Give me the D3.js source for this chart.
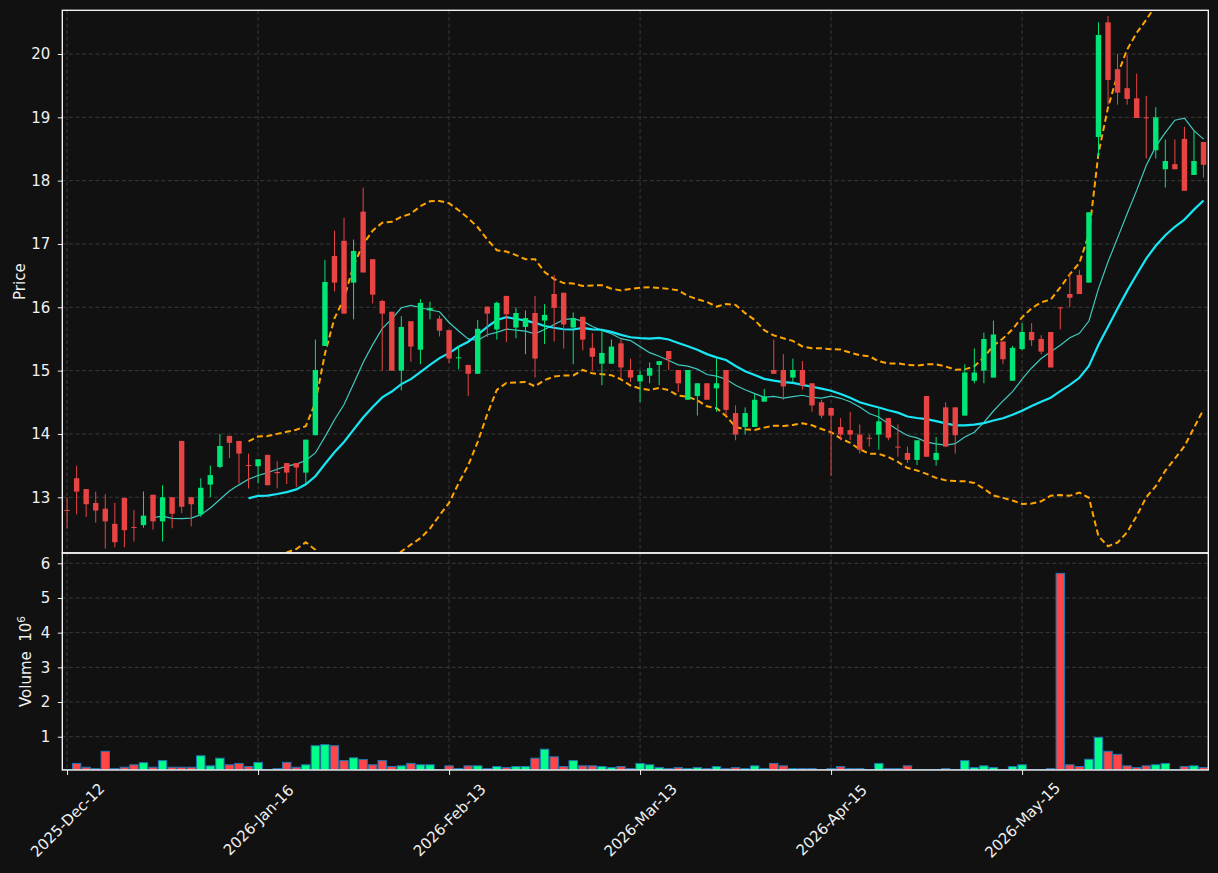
<!DOCTYPE html>
<html>
<head>
<meta charset="utf-8">
<script src="https://cdn.jsdelivr.net/npm/d3@7"></script>
<style>
  body { margin: 0; background: #111111; }
  svg { display: block; font-family: "DejaVu Sans", sans-serif; }
</style>
</head>
<body>
<div id="chart"></div>
<script>
// OHLC, one entry per trading day
const openP = [12.80,13.30,13.13,12.91,12.82,12.58,12.99,12.53,12.56,13.04,
  12.62,13.00,13.89,13.00,12.73,13.20,13.48,13.97,13.89,13.51,
  13.49,13.67,13.40,13.54,13.54,13.39,13.98,15.39,16.81,17.05,
  16.39,17.51,16.76,16.10,15.93,15.00,15.78,15.33,15.95,15.82,
  15.64,15.20,15.09,14.95,16.01,15.65,16.18,15.68,15.69,15.91,
  15.79,16.21,16.23,15.68,15.85,15.36,15.11,15.11,15.43,15.01,
  14.83,14.92,15.09,15.31,15.01,14.54,14.60,14.80,14.72,15.01,
  14.33,14.11,14.11,14.51,15.01,15.01,14.89,15.01,14.80,14.50,
  14.41,14.11,14.06,13.99,13.94,13.99,14.25,13.80,13.70,13.59,
  14.60,13.59,14.42,14.42,14.29,14.84,15.00,14.89,15.46,14.84,
  15.34,15.61,15.50,15.61,16.00,16.21,16.51,16.39,18.69,20.50,
  19.76,19.46,19.30,19.00,18.48,18.18,18.26,18.66,18.09,18.61];
const highP = [13.00,13.50,13.13,13.09,13.05,12.91,12.99,12.80,13.09,13.04,
  13.19,13.00,13.89,13.00,13.30,13.50,14.00,13.97,13.89,13.69,
  13.60,13.67,13.57,13.54,13.54,13.91,15.49,16.75,17.21,17.41,
  17.07,17.89,16.76,16.12,15.93,15.86,15.78,16.13,16.09,15.87,
  15.64,15.38,15.09,15.80,16.01,16.09,16.18,16.00,15.95,16.18,
  16.05,16.51,16.23,15.92,15.85,15.59,15.64,15.49,15.49,15.19,
  15.00,15.13,15.15,15.31,15.01,15.01,14.80,14.80,15.19,15.01,
  14.45,14.42,14.64,14.71,15.49,15.26,15.19,15.15,14.80,14.54,
  14.41,14.25,14.35,14.15,13.99,14.40,14.25,14.15,13.80,13.90,
  14.60,13.95,14.50,14.42,15.10,15.35,15.60,15.79,15.46,15.39,
  15.75,15.75,15.56,15.61,16.00,16.55,16.59,17.50,20.50,20.60,
  20.00,19.98,19.69,19.34,19.16,18.65,18.65,18.85,18.79,18.61];
const lowP = [12.51,12.73,12.69,12.60,12.19,12.21,12.21,12.30,12.52,12.49,
  12.30,12.51,12.75,12.54,12.69,13.00,13.46,13.62,13.22,13.14,
  13.22,13.19,13.14,13.21,13.16,13.21,13.98,15.39,16.25,15.90,
  15.81,16.55,16.06,15.00,15.00,14.69,15.14,15.10,15.81,15.54,
  15.12,15.02,14.60,14.95,15.53,15.49,15.45,15.51,15.26,14.89,
  15.42,15.46,15.35,15.10,15.32,15.00,14.77,15.11,14.88,14.82,
  14.50,14.80,14.77,15.01,14.66,14.54,14.29,14.54,14.35,14.29,
  13.90,13.99,14.11,14.51,14.95,14.54,14.82,14.70,14.35,14.25,
  13.34,13.90,13.90,13.69,13.80,13.75,13.90,13.64,13.54,13.51,
  13.64,13.50,13.80,13.69,14.29,14.80,14.80,14.89,15.10,14.84,
  15.32,15.39,15.26,15.05,15.65,16.00,16.21,16.39,18.38,19.20,
  19.20,19.20,18.99,18.35,18.35,17.89,18.18,17.84,18.09,18.05];
const closeP = [12.79,13.09,12.89,12.79,12.62,12.29,12.48,12.52,12.71,12.62,
  13.00,12.74,12.85,12.89,13.15,13.35,13.81,13.86,13.69,13.50,
  13.60,13.19,13.38,13.39,13.47,13.91,15.01,16.40,16.39,15.90,
  16.89,16.55,16.20,15.90,15.00,15.69,15.38,16.07,15.99,15.63,
  15.19,15.21,14.95,15.66,15.90,16.07,15.89,15.91,15.83,15.19,
  15.88,15.99,15.73,15.83,15.49,15.22,15.28,15.38,15.05,14.89,
  14.93,15.04,15.15,15.18,14.80,15.01,14.80,14.54,14.80,14.38,
  13.99,14.33,14.54,14.59,14.95,14.75,15.01,14.77,14.45,14.29,
  14.29,13.99,13.99,13.75,13.93,14.20,13.94,13.79,13.59,13.90,
  13.64,13.70,13.80,13.98,14.97,14.97,15.50,15.57,15.18,15.36,
  15.61,15.48,15.30,15.05,15.99,16.15,16.21,17.50,20.30,19.59,
  19.39,19.29,18.99,18.99,19.00,18.31,18.18,17.84,18.31,18.25];
// volume in millions
const volume = [0.05,0.23,0.12,0.08,0.58,0.08,0.12,0.19,0.25,0.12,
  0.31,0.12,0.12,0.12,0.45,0.16,0.38,0.19,0.23,0.14,
  0.26,0.05,0.08,0.26,0.12,0.19,0.74,0.77,0.74,0.31,
  0.39,0.34,0.19,0.31,0.14,0.16,0.23,0.19,0.19,0.05,
  0.16,0.08,0.16,0.16,0.08,0.14,0.11,0.14,0.14,0.38,
  0.64,0.42,0.14,0.31,0.16,0.16,0.14,0.11,0.14,0.08,
  0.23,0.19,0.11,0.08,0.11,0.08,0.11,0.08,0.14,0.08,
  0.11,0.08,0.16,0.08,0.23,0.16,0.08,0.08,0.08,0.05,
  0.08,0.14,0.08,0.08,0.05,0.23,0.08,0.08,0.16,0.05,
  0.05,0.05,0.08,0.05,0.31,0.11,0.16,0.11,0.05,0.14,
  0.19,0.05,0.05,0.08,5.71,0.19,0.14,0.35,0.98,0.58,
  0.49,0.16,0.11,0.16,0.19,0.23,0.05,0.14,0.16,0.11];

const tickIdx = [0, 20, 40, 60, 80, 100];
const tickLabels = ["2025-Dec-12", "2026-Jan-16", "2026-Feb-13", "2026-Mar-13", "2026-Apr-15", "2026-May-15"];
const priceTicks = [13, 14, 15, 16, 17, 18, 19, 20];
const volTicks = [1, 2, 3, 4, 5, 6];

document.addEventListener("DOMContentLoaded", function () {
    const width = 1218, height = 873;
    const left = 62.3, right = 1208.3;
    const pTop = 10.3, pBottom = 553, vTop = 553, vBottom = 770;

    const upCandle = "#00e676", downCandle = "#e94444";
    const upVol = "#00ff88", downVol = "#ff4545";
    const gridColor = "#3a3a3a", textColor = "#f0f0f0";

    const svg = d3.select("#chart").append("svg").attr("width", width).attr("height", height);
    svg.append("rect").attr("width", width).attr("height", height).attr("fill", "#111111");

    const n = closeP.length;
    const data = d3.range(n).map(i => ({
        i: i, o: openP[i], h: highP[i], l: lowP[i], c: closeP[i], v: volume[i]
    }));

    const x = d3.scaleLinear().domain([-0.5, n - 0.5]).range([left, right]);
    const y = d3.scaleLinear().domain([12.12, 20.69]).range([pBottom, pTop]);
    const yv = d3.scaleLinear().domain([0.04, 6.297]).range([vBottom, vTop]);
    const step = x(1) - x(0);

    svg.append("clipPath").attr("id", "pclip")
        .append("rect").attr("x", left).attr("y", pTop).attr("width", right - left).attr("height", pBottom - pTop);
    svg.append("clipPath").attr("id", "vclip")
        .append("rect").attr("x", left).attr("y", vTop).attr("width", right - left).attr("height", vBottom - vTop);

    // grid
    const grid = svg.append("g").attr("stroke", gridColor).attr("stroke-width", 1).attr("stroke-dasharray", "4,2.6");
    tickIdx.forEach(t => {
        grid.append("line").attr("x1", x(t)).attr("x2", x(t)).attr("y1", pTop).attr("y2", pBottom);
        grid.append("line").attr("x1", x(t)).attr("x2", x(t)).attr("y1", vTop).attr("y2", vBottom);
    });
    priceTicks.forEach(t => grid.append("line").attr("x1", left).attr("x2", right).attr("y1", y(t)).attr("y2", y(t)));
    volTicks.forEach(t => grid.append("line").attr("x1", left).attr("x2", right).attr("y1", yv(t)).attr("y2", yv(t)));

    // rolling stats from closes
    function rolling(win, fn) {
        return data.map((d, i) => i < win - 1 ? null : fn(closeP.slice(i - win + 1, i + 1)));
    }
    const ma10 = rolling(10, a => d3.mean(a));
    const ma20 = rolling(20, a => d3.mean(a));
    const sd20 = rolling(20, a => d3.deviation(a));
    const upper = ma20.map((m, i) => m === null ? null : m + 2 * sd20[i]);
    const lower = ma20.map((m, i) => m === null ? null : m - 2 * sd20[i]);

    const line = d3.line().defined(d => d[1] !== null).x(d => x(d[0])).y(d => y(d[1]));
    const lines = svg.append("g").attr("clip-path", "url(#pclip)");

    // candles
    const candles = svg.append("g").attr("clip-path", "url(#pclip)");
    const bodyW = 5.4;
    candles.selectAll("line.wick").data(data).join("line")
        .attr("class", "wick")
        .attr("x1", d => x(d.i)).attr("x2", d => x(d.i))
        .attr("y1", d => y(d.h)).attr("y2", d => y(d.l))
        .attr("stroke", d => d.c >= d.o ? upCandle : downCandle)
        .attr("stroke-width", 1);
    candles.selectAll("rect.body").data(data).join("rect")
        .attr("class", "body")
        .attr("x", d => x(d.i) - bodyW / 2)
        .attr("width", bodyW)
        .attr("y", d => y(Math.max(d.o, d.c)))
        .attr("height", d => Math.max(1, Math.abs(y(d.o) - y(d.c))))
        .attr("fill", d => d.c >= d.o ? upCandle : downCandle);

    lines.append("path").datum(ma10.map((v, i) => [i, v])).attr("d", line)
        .attr("fill", "none").attr("stroke", "#3fc9bf").attr("stroke-width", 1.2);
    lines.append("path").datum(ma20.map((v, i) => [i, v])).attr("d", line)
        .attr("fill", "none").attr("stroke", "#19e6f5").attr("stroke-width", 2.2);
    [upper, lower].forEach(band => {
        lines.append("path").datum(band.map((v, i) => [i, v])).attr("d", line)
            .attr("fill", "none").attr("stroke", "#ffa500").attr("stroke-width", 2)
            .attr("stroke-dasharray", "6,3.5");
    });

    // volume bars
    const volW = step * 0.88;
    svg.append("g").attr("clip-path", "url(#vclip)")
        .selectAll("rect").data(data).join("rect")
        .attr("x", d => x(d.i) - volW / 2)
        .attr("width", volW)
        .attr("y", d => yv(d.v))
        .attr("height", d => Math.max(0, vBottom - yv(d.v)))
        .attr("fill", d => d.c >= d.o ? upVol : downVol)
        .attr("stroke", "#1f77b4")
        .attr("stroke-width", 1);

    // axes
    function styleAxis(g) {
        g.select(".domain").remove();
        g.selectAll(".tick line").attr("stroke", textColor);
        g.selectAll(".tick text").attr("fill", textColor).attr("font-size", 15)
            .attr("font-family", "DejaVu Sans, sans-serif");
    }
    svg.append("g").attr("transform", `translate(${left},0)`)
        .call(d3.axisLeft(y).tickValues(priceTicks).tickSize(4.5).tickPadding(7.5).tickFormat(d3.format("d")))
        .call(styleAxis);
    svg.append("g").attr("transform", `translate(${left},0)`)
        .call(d3.axisLeft(yv).tickValues(volTicks).tickSize(4.5).tickPadding(7.5).tickFormat(d3.format("d")))
        .call(styleAxis);
    const xAxis = svg.append("g").attr("transform", `translate(0,${vBottom})`)
        .call(d3.axisBottom(x).tickValues(tickIdx).tickSize(5).tickFormat((d, k) => tickLabels[k]))
        .call(styleAxis);
    xAxis.selectAll(".tick text")
        .attr("y", 0).attr("dy", "0.35em")
        .attr("text-anchor", "middle")
        .attr("transform", "translate(0,50) rotate(-45)");

    // spines
    [[pTop, pBottom], [vTop, vBottom]].forEach(([t, b]) => {
        svg.append("rect").attr("x", left).attr("y", t).attr("width", right - left).attr("height", b - t)
            .attr("fill", "none").attr("stroke", "#ffffff").attr("stroke-width", 1.3);
    });

    // axis labels
    svg.append("text").attr("transform", `translate(24.5,${(pTop + pBottom) / 2}) rotate(-90)`)
        .attr("text-anchor", "middle").attr("fill", textColor).attr("font-size", 15).text("Price");
    const vl = svg.append("text").attr("transform", `translate(31,${(vTop + vBottom) / 2}) rotate(-90)`)
        .attr("text-anchor", "middle").attr("fill", textColor).attr("font-size", 15);
    vl.append("tspan").text("Volume\u00a0\u00a010");
    vl.append("tspan").attr("dy", -6).attr("font-size", 10.5).text("6");
});
</script>
</body>
</html>
